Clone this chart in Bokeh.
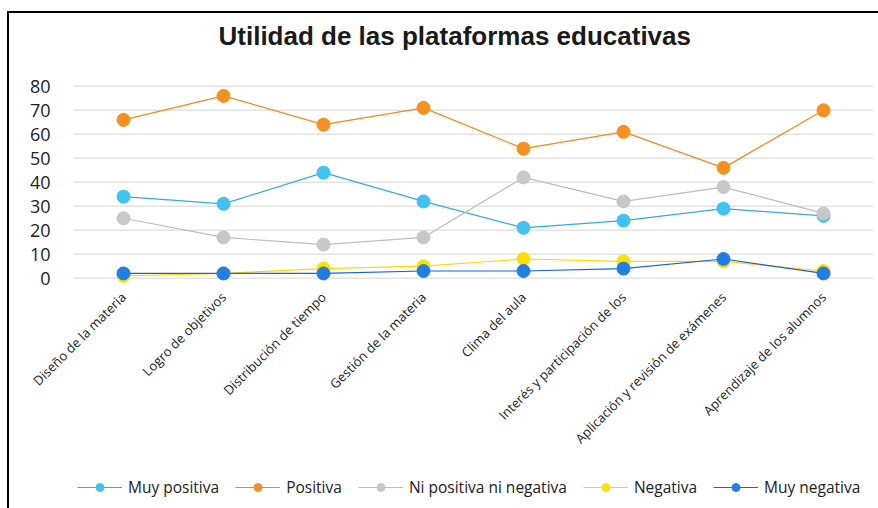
import math
from bokeh.plotting import figure
from bokeh.models import Range1d, FixedTicker, Legend, LegendItem, Title
from bokeh.embed import file_html
from bokeh.resources import INLINE

categories = ["Diseño de la materia", "Logro de objetivos", "Distribución de tiempo",
              "Gestión de la materia", "Clima del aula", "Interés y participación de los",
              "Aplicación y revisión de exámenes", "Aprendizaje de los alumnos"]
series_names = ["Muy positiva", "Positiva", "Ni positiva ni negativa", "Negativa", "Muy negativa"]
muy_positiva = [34, 31, 44, 32, 21, 24, 29, 26]
positiva = [66, 76, 64, 71, 54, 61, 46, 70]
ni_positiva = [25, 17, 14, 17, 42, 32, 38, 27]
negativa = [1, 2, 4, 5, 8, 7, 7, 3]
muy_negativa = [2, 2, 2, 3, 3, 4, 8, 2]
y_ticks = [0, 10, 20, 30, 40, 50, 60, 70, 80]

fills = ["#3EC3F3", "#F7901E", "#C8C8C8", "#FFE100", "#1F7FE8"]
lines = ["#35A9EA", "#F28A1C", "#BDBDBD", "#FFD800", "#1565D8"]
data = [muy_positiva, positiva, ni_positiva, negativa, muy_negativa]

xs = list(range(len(categories)))
x_lo, x_hi = -0.5, len(categories) - 0.5

p = figure(frame_width=864, frame_height=435, output_backend="svg", toolbar_location=None,
           x_range=Range1d(x_lo - 0.64, x_hi), y_range=Range1d(-96, 82 + 8 / 2.4),
           min_border_left=0, min_border_right=5, min_border_top=60, min_border_bottom=0)
p.styles = {"border-left": "2px solid black", "border-top": "2px solid black",
            "margin-top": "11px", "margin-left": "7px"}

p.title.text = "Utilidad de las plataformas educativas"
p.title.text_font = "Liberation Sans"
p.title.text_font_size = "26px"
p.title.text_font_style = "bold"
p.title.text_color = "#1a1a1a"
p.title.align = "left"
p.title.offset = 209
spacer = Title(text=" ", text_font_size="5px")
p.above.insert(0, spacer)

p.outline_line_color = None
p.background_fill_color = "white"
p.border_fill_color = "white"

p.xgrid.grid_line_color = None
p.ygrid.grid_line_color = None
p.segment(x0=[x_lo] * len(y_ticks), x1=[x_hi] * len(y_ticks), y0=y_ticks, y1=y_ticks,
          line_color="#E3E3E3", line_width=1.5, level="underlay")

p.yaxis.ticker = FixedTicker(ticks=y_ticks)
p.yaxis.fixed_location = x_lo
p.yaxis.axis_line_color = None
p.yaxis.major_tick_line_color = None
p.yaxis.minor_tick_line_color = None
p.yaxis.major_label_text_font = "Open Sans"
p.yaxis.major_label_text_font_size = "18px"
p.yaxis.major_label_text_color = "#222222"
p.yaxis.major_label_standoff = 17

p.xaxis.ticker = FixedTicker(ticks=xs)
p.xaxis.fixed_location = -1
p.xaxis.major_label_overrides = {i: c for i, c in enumerate(categories)}
p.xaxis.major_label_orientation = math.pi / 4
p.xaxis.axis_line_color = None
p.xaxis.major_tick_line_color = None
p.xaxis.minor_tick_line_color = None
p.xaxis.major_label_text_font = "Open Sans"
p.xaxis.major_label_text_font_size = "13px"
p.xaxis.major_label_text_color = "#222222"
p.xaxis.major_label_standoff = 8

items = []
for name, vals, fc, lc in zip(series_names, data, fills, lines):
    l = p.line(xs, vals, line_color=lc, line_width=1.2)
    s = p.scatter(xs, vals, size=13, fill_color=fc, line_color=fc, line_width=1)
    items.append(LegendItem(label=name, renderers=[l, s]))

legend = Legend(items=items, orientation="horizontal", location=(68, 10),
                glyph_width=45, glyph_height=20, label_standoff=6, spacing=16,
                padding=0, margin=0, border_line_color=None, background_fill_alpha=0,
                label_text_font="Open Sans", label_text_font_size="15.5px",
                label_text_color="#222222")
p.add_layout(legend, "center")

open("out.html", "w").write(file_html(p, INLINE))
